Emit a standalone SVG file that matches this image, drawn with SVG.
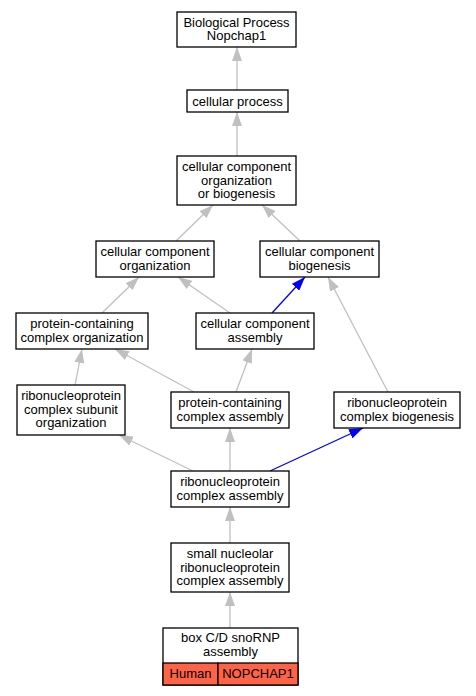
<svg xmlns="http://www.w3.org/2000/svg" width="476" height="696" viewBox="0 0 476 696">
<style>
text{font-family:"Liberation Sans",Arial,sans-serif;font-size:13px;text-anchor:middle;fill:#000}
.box{fill:#fff;stroke:#000;stroke-width:1.3}
.cell{fill:#ff6347;stroke:#000;stroke-width:1.3}
.e{fill:none;stroke:#c0c0c0;stroke-width:1.3;marker-end:url(#ag)}
.b{fill:none;stroke:#0000ff;stroke-width:1.3;marker-end:url(#ab)}
</style>
<defs>
<marker id="ag" viewBox="0 0 14 10" refX="14" refY="5" markerWidth="14" markerHeight="10" markerUnits="userSpaceOnUse" orient="auto"><path d="M0,0L14,5L0,10z" fill="#c0c0c0"/></marker>
<marker id="ab" viewBox="0 0 14 10" refX="14" refY="5" markerWidth="14" markerHeight="10" markerUnits="userSpaceOnUse" orient="auto"><path d="M0,0L14,5L0,10z" fill="#0000ff"/></marker>
</defs>
<rect width="476" height="696" fill="#fff"/>
<g id="edges">
<path class="e" d="M237,90L237,47"/>
<path class="e" d="M237,156L237,112"/>
<path class="e" d="M176,241L213,205"/>
<path class="e" d="M300,241L262,205"/>
<path class="e" d="M102,313L139,277"/>
<path class="e" d="M230,313L178,277"/>
<path class="b" d="M272,313L305,277"/>
<path class="e" d="M388,392L328,277"/>
<path class="e" d="M75,385L82,349"/>
<path class="e" d="M194,392L115,349"/>
<path class="e" d="M236,392L252,349"/>
<path class="e" d="M193,471L119,435"/>
<path class="e" d="M230,471L230,428"/>
<path class="b" d="M270,471L363,428"/>
<path class="e" d="M230,543L230,507"/>
<path class="e" d="M230,628L230,592"/>
</g>
<g id="n1"><rect class="box" x="177" y="12" width="119" height="35"/><text x="236.5" y="26.5">Biological Process</text><text x="236.5" y="40">Nopchap1</text></g>
<g id="n2"><rect class="box" x="187" y="90" width="101" height="22"/><text x="237.5" y="105.5">cellular process</text></g>
<g id="n3"><rect class="box" x="177" y="156" width="119" height="49"/><text x="236.5" y="171">cellular component</text><text x="236.5" y="184.5">organization</text><text x="236.5" y="198">or biogenesis</text></g>
<g id="n4"><rect class="box" x="96" y="241" width="118" height="36"/><text x="155" y="256">cellular component</text><text x="155" y="269.5">organization</text></g>
<g id="n5"><rect class="box" x="260" y="241" width="119" height="36"/><text x="319.5" y="256">cellular component</text><text x="319.5" y="269.5">biogenesis</text></g>
<g id="n6"><rect class="box" x="16" y="313" width="132" height="36"/><text x="82" y="328">protein-containing</text><text x="82" y="341.5">complex organization</text></g>
<g id="n7"><rect class="box" x="196" y="313" width="118" height="36"/><text x="255" y="328">cellular component</text><text x="255" y="341.5">assembly</text></g>
<g id="n8"><rect class="box" x="17" y="385" width="108" height="50"/><text x="71" y="400">ribonucleoprotein</text><text x="71" y="413.5">complex subunit</text><text x="71" y="427">organization</text></g>
<g id="n9"><rect class="box" x="171" y="392" width="118" height="36"/><text x="230" y="407">protein-containing</text><text x="230" y="420.5">complex assembly</text></g>
<g id="n10"><rect class="box" x="334" y="392" width="126" height="36"/><text x="397" y="407">ribonucleoprotein</text><text x="397" y="420.5">complex biogenesis</text></g>
<g id="n11"><rect class="box" x="171" y="471" width="118" height="36"/><text x="230" y="486">ribonucleoprotein</text><text x="230" y="499.5">complex assembly</text></g>
<g id="n12"><rect class="box" x="171" y="543" width="118" height="49"/><text x="230" y="558">small nucleolar</text><text x="230" y="571.5">ribonucleoprotein</text><text x="230" y="585">complex assembly</text></g>
<g id="n13"><rect class="box" x="163" y="628" width="135" height="57"/><text x="230.5" y="642">box C/D snoRNP</text><text x="230.5" y="655.5">assembly</text>
<rect class="cell" x="163" y="663" width="55" height="22"/><rect class="cell" x="218" y="663" width="80" height="22"/>
<text x="190.5" y="678">Human</text><text x="258" y="678">NOPCHAP1</text></g>
</svg>
